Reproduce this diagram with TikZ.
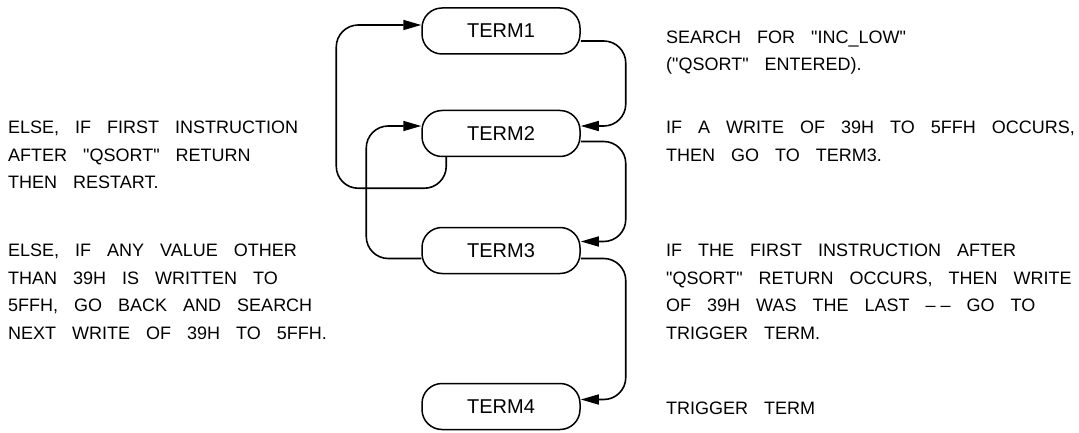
\documentclass[tikz,border=0pt]{standalone}
\usepackage{fontspec}
\newfontfamily\cadfont{Liberation Sans}[WordSpace=3.2]
\usetikzlibrary{arrows.meta,calc}
\begin{document}
\begin{tikzpicture}[x=1pt,y=1pt,
  term/.style={draw, line width=1.5pt, rounded corners=20pt, minimum width=158pt,
    minimum height=46pt, inner sep=0pt, font=\cadfont\fontsize{20}{24}\selectfont},
  conn/.style={line width=1.6pt, rounded corners=22pt},
  arr/.style={-{Triangle[length=18pt,width=10pt]}},
  txt/.style={anchor=base west, inner sep=0pt, font=\cadfont\fontsize{18}{22}\selectfont}]
\useasboundingbox (0,0) rectangle (1079,-433);
\node[term] (t1) at (501,-31) {TERM1};
\node[term] (t2) at (501,-133.5) {TERM2};
\node[term] (t3) at (501,-250.5) {TERM3};
\node[term] (t4) at (501,-406.5) {TERM4};
% right-hand connectors
\draw[conn,arr] ([yshift=-10pt]t1.east) -- ++(45,0) |- ([yshift=7.5pt]t2.east);
\draw[conn,arr] ([yshift=-8pt]t2.east) -- ++(45,0) |- ([yshift=9pt]t3.east);
\draw[conn,arr] ([yshift=-8pt]t3.east) -- ++(45,0) |- ([yshift=7pt]t4.east);
% left-hand loops
\draw[conn,arr] ([xshift=25pt]t2.south west) |- ++(-110,-31) |- ([yshift=6pt]t1.west);
\draw[conn,arr] ([yshift=-8pt]t3.west) -- ++(-55,0) |- ([yshift=7.5pt]t2.west);
% left text
\node[txt] (l1) at (8,-133.5) {ELSE, IF FIRST INSTRUCTION};
\node[txt] (l2) at (8,-161) {AFTER "QSORT" RETURN};
\node[txt] (l3) at (8,-188.5) {THEN RESTART.};
\node[txt] (l4) at (8,-256.5) {ELSE, IF ANY VALUE OTHER};
\node[txt] (l5) at (8,-284) {THAN 39H IS WRITTEN TO};
\node[txt] (l6) at (8,-311.5) {5FFH, GO BACK AND SEARCH};
\node[txt] (l7) at (8,-339) {NEXT WRITE OF 39H TO 5FFH.};
% right text
\node[txt] (r1) at (666,-43.5) {SEARCH FOR "INC\_LOW"};
\node[txt] (r2) at (666,-71) {("QSORT" ENTERED).};
\node[txt] (r3) at (666,-133.5) {IF A WRITE OF 39H TO 5FFH OCCURS,};
\node[txt] (r4) at (666,-161) {THEN GO TO TERM3.};
\node[txt] (r5) at (666,-256.5) {IF THE FIRST INSTRUCTION AFTER};
\node[txt] (r6) at (666,-284) {"QSORT" RETURN OCCURS, THEN WRITE};
\node[txt] (r7) at (666,-311.5) {OF 39H WAS THE LAST \textendash\kern5pt\textendash\ GO TO};
\node[txt] (r8) at (666,-339) {TRIGGER TERM.};
\node[txt] (r9) at (666,-414.5) {TRIGGER TERM};
\end{tikzpicture}
\end{document}
